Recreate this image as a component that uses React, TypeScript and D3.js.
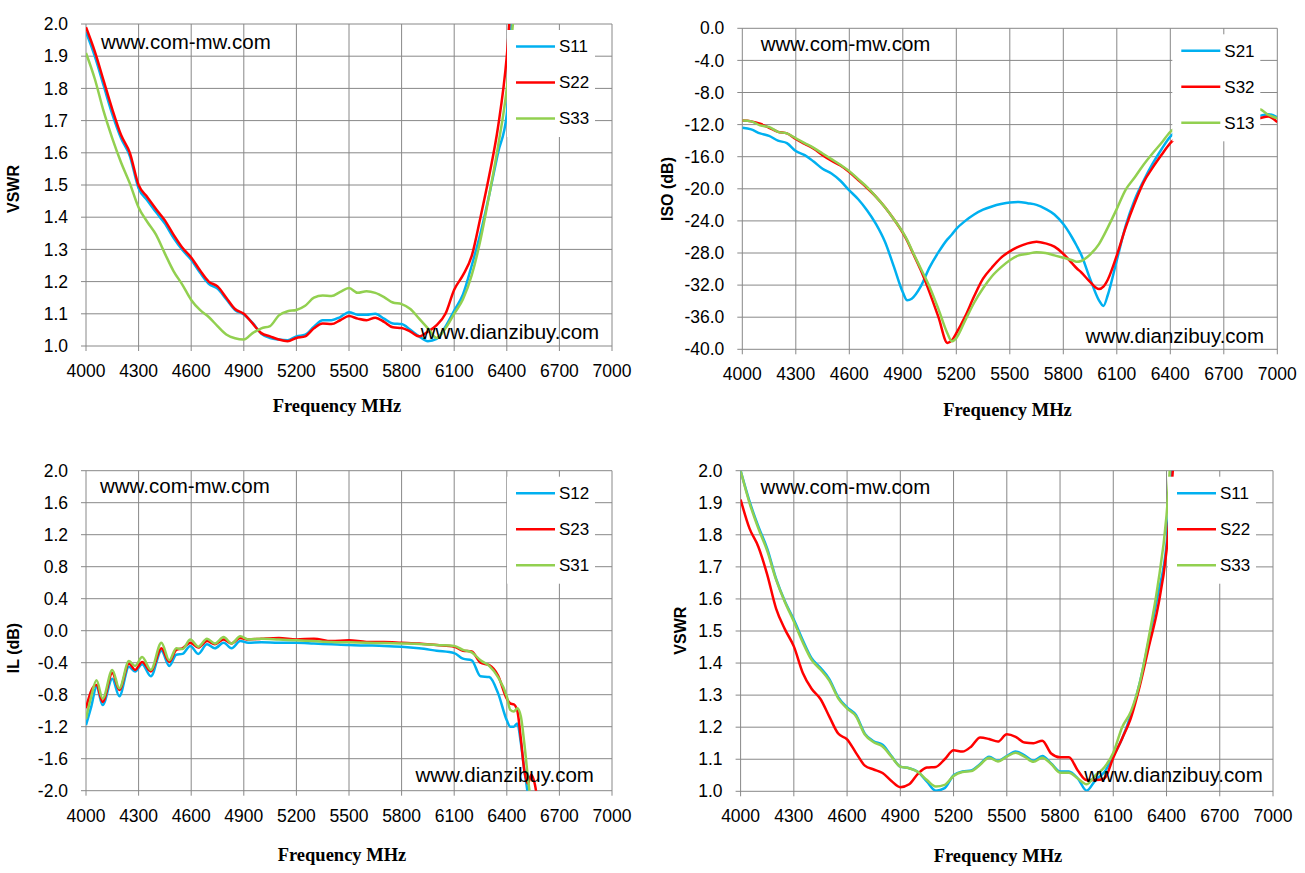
import * as d3 from "d3";

// ---- axis ticks ----
const freqTicks = [4000, 4300, 4600, 4900, 5200, 5500, 5800, 6100, 6400, 6700, 7000];
const vswrTicks = [1.0, 1.1, 1.2, 1.3, 1.4, 1.5, 1.6, 1.7, 1.8, 1.9, 2.0];
const isoTicks = [0, -4, -8, -12, -16, -20, -24, -28, -32, -36, -40];
const ilTicks = [2.0, 1.6, 1.2, 0.8, 0.4, 0.0, -0.4, -0.8, -1.2, -1.6, -2.0];

// ---- frequency points (MHz) ----
const vswrFreq = [
  4000, 4050, 4100, 4150, 4200, 4250, 4300, 4350, 4400, 4450,
  4500, 4550, 4600, 4650, 4700, 4750, 4800, 4850, 4900, 4950,
  5000, 5050, 5100, 5150, 5200, 5250, 5300, 5350, 5400, 5450,
  5500, 5550, 5600, 5650, 5700, 5750, 5800, 5850, 5900, 5950,
  6000, 6050, 6100, 6150, 6200, 6250, 6300, 6350, 6400, 6450,
];
const isoFreq = [
  4000, 4050, 4100, 4150, 4200, 4250, 4300, 4350, 4400, 4450,
  4500, 4550, 4600, 4650, 4700, 4750, 4800, 4850, 4900, 4925,
  4950, 5000, 5050, 5100, 5150, 5175, 5200, 5250, 5300, 5350,
  5400, 5450, 5500, 5550, 5600, 5650, 5700, 5750, 5800, 5850,
  5875, 5900, 5950, 6000, 6025, 6050, 6100, 6150, 6200, 6250,
  6300, 6350, 6400, 6450, 6900, 6950, 7000,
];
const ilFreq = [
  4000, 4030, 4060, 4095, 4150, 4190, 4245, 4280, 4320, 4370,
  4430, 4475, 4515, 4550, 4595, 4640, 4690, 4735, 4785, 4830,
  4880, 4925, 5000, 5100, 5200, 5300, 5400, 5500, 5600, 5700,
  5800, 5900, 6000, 6100, 6150, 6200, 6250, 6300, 6350, 6400,
  6420, 6440, 6460, 6480, 6500, 6520, 6540, 6560, 6580,
];

// ---- top-left: VSWR ----
const vswrA_S11 = [
  1.975, 1.9, 1.81, 1.72, 1.645, 1.59, 1.49, 1.452, 1.415, 1.38,
  1.335, 1.298, 1.268, 1.228, 1.193, 1.178, 1.145, 1.112, 1.098, 1.072,
  1.038, 1.025, 1.02, 1.018, 1.03, 1.035, 1.06, 1.08, 1.08, 1.09,
  1.105, 1.097, 1.097, 1.1, 1.085, 1.07, 1.068, 1.05, 1.03, 1.015,
  1.022, 1.06, 1.11, 1.16, 1.25, 1.35, 1.47, 1.6, 1.72, 2.35,
];
const vswrA_S22 = [
  1.99, 1.915, 1.825, 1.735, 1.655, 1.6, 1.5, 1.462, 1.425, 1.39,
  1.345, 1.305, 1.275, 1.235, 1.2, 1.185, 1.15, 1.115, 1.1, 1.07,
  1.04, 1.03, 1.02, 1.015, 1.025, 1.03, 1.055, 1.07, 1.068, 1.08,
  1.093, 1.085, 1.08, 1.088, 1.075, 1.058, 1.056, 1.045, 1.03, 1.045,
  1.065, 1.1, 1.175, 1.22, 1.28, 1.4, 1.53, 1.68, 1.9, 2.3,
];
const vswrA_S33 = [
  1.91, 1.83, 1.73, 1.645, 1.57, 1.505, 1.43, 1.385, 1.345, 1.287,
  1.232, 1.19, 1.143, 1.112, 1.09, 1.062, 1.036, 1.024, 1.02, 1.04,
  1.055, 1.062, 1.095, 1.108, 1.112, 1.125, 1.15, 1.157, 1.155, 1.168,
  1.18, 1.165, 1.17, 1.165, 1.152, 1.135, 1.13, 1.115, 1.085, 1.055,
  1.025, 1.055, 1.1, 1.145, 1.22, 1.33, 1.47, 1.62, 1.8, 2.1,
];

// ---- top-right: isolation ----
const iso_S21 = [
  -12.4, -12.6, -13.1, -13.4, -14.0, -14.3, -15.3, -15.8, -16.6, -17.5,
  -18.1, -19.0, -20.2, -21.3, -22.7, -24.4, -26.6, -29.7, -32.9, -33.9,
  -33.7, -32.2, -29.8, -27.9, -26.3, -25.7, -25.0, -24.0, -23.2, -22.6,
  -22.2, -21.9, -21.7, -21.65, -21.8, -22.0, -22.5, -23.2, -24.4, -26.1,
  -27.1, -28.2, -31.2, -33.9, -34.6, -33.2, -28.9, -24.6, -21.4, -19.0,
  -16.9, -15.1, -13.5, -12.7, -10.9, -10.7, -11.1,
];
const iso_S32 = [
  -11.5, -11.6, -11.9, -12.4, -12.9, -13.1, -13.8, -14.4, -15.0, -15.8,
  -16.5, -17.1, -17.9, -18.9, -19.9, -21.0, -22.3, -23.8, -25.5, -26.5,
  -27.7, -30.1, -32.9, -36.0, -39.2, -38.9, -38.0, -35.9, -33.4, -31.2,
  -29.8, -28.6, -27.8, -27.2, -26.8, -26.6, -26.8, -27.2, -28.1, -29.3,
  -29.9, -30.4, -31.6, -32.5, -32.2, -31.3, -28.3, -24.8, -21.8, -19.2,
  -17.4, -15.8, -14.3, -13.4, -11.2, -11.0, -11.7,
];
const iso_S13 = [
  -11.5, -11.6, -12.1, -12.3, -12.9, -13.1, -13.7, -14.3, -14.9, -15.6,
  -16.3, -17.0, -17.8, -18.8, -19.8, -21.0, -22.3, -23.8, -25.4, -26.4,
  -27.6, -29.9, -32.2, -35.0, -38.0, -39.0, -38.6, -36.4, -34.2, -32.4,
  -30.9, -29.8, -28.9, -28.3, -28.1, -27.9, -28.0, -28.3, -28.6, -28.9,
  -29.1, -29.0, -28.2, -26.9, -25.9, -24.8, -22.5, -20.1, -18.6, -17.0,
  -15.6, -14.3, -12.9, -12.3, -10.1, -10.8, -11.2,
];

// ---- bottom-left: insertion loss ----
const il_S12 = [
  -1.18, -0.95, -0.7, -0.93, -0.6, -0.82, -0.45, -0.51, -0.42, -0.57,
  -0.25, -0.44, -0.3, -0.29, -0.19, -0.29, -0.17, -0.22, -0.15, -0.22,
  -0.13, -0.15, -0.145, -0.15, -0.15, -0.16, -0.17, -0.18, -0.185, -0.19,
  -0.2, -0.22, -0.25, -0.28, -0.35, -0.37, -0.57, -0.58, -0.78, -1.12,
  -1.2, -1.2, -1.16, -1.4, -1.74, -2.05, -2.5, -2.9, -3.3,
];
const il_S23 = [
  -0.97, -0.75, -0.68, -0.89, -0.53, -0.74, -0.41, -0.49, -0.39, -0.51,
  -0.22, -0.39, -0.24, -0.22, -0.15, -0.21, -0.13, -0.17, -0.11, -0.16,
  -0.09, -0.11, -0.1, -0.09, -0.11, -0.1, -0.13, -0.12, -0.14, -0.14,
  -0.15, -0.16, -0.18, -0.2, -0.25, -0.26, -0.4, -0.43, -0.56, -0.85,
  -0.91, -0.92, -1.0, -1.35, -1.75, -1.91, -1.8, -1.92, -2.2,
];
const il_S31 = [
  -1.1, -0.82, -0.62, -0.85, -0.49, -0.72, -0.38, -0.44, -0.33, -0.49,
  -0.15, -0.37, -0.22, -0.23, -0.11, -0.2, -0.1, -0.16, -0.08, -0.16,
  -0.07, -0.11, -0.1, -0.11, -0.12, -0.13, -0.14, -0.145, -0.15, -0.155,
  -0.16, -0.165, -0.18, -0.19, -0.24, -0.27, -0.37, -0.44, -0.58, -0.82,
  -0.99, -1.01, -0.97, -1.07, -1.41, -1.83, -2.2, -2.6, -3.0,
];

// ---- bottom-right: VSWR ----
const vswrB_S11 = [
  2.0, 1.905, 1.826, 1.757, 1.663, 1.592, 1.536, 1.472, 1.415, 1.385,
  1.35, 1.294, 1.262, 1.238, 1.18, 1.156, 1.145, 1.11, 1.077, 1.072,
  1.06, 1.03, 1.002, 1.01, 1.05, 1.062, 1.065, 1.085, 1.108, 1.095,
  1.11, 1.124, 1.112, 1.095, 1.11, 1.087, 1.062, 1.062, 1.04, 1.002,
  1.035, 1.06, 1.11, 1.165, 1.24, 1.34, 1.47, 1.61, 1.77, 2.2,
];
const vswrB_S22 = [
  1.91, 1.82, 1.763, 1.676, 1.57, 1.505, 1.452, 1.37, 1.32, 1.288,
  1.233, 1.18, 1.162, 1.12, 1.08, 1.068, 1.057, 1.032, 1.013, 1.022,
  1.055, 1.074, 1.076, 1.1, 1.128, 1.124, 1.14, 1.168, 1.163, 1.155,
  1.178, 1.17, 1.152, 1.15, 1.158, 1.118, 1.106, 1.106, 1.065, 1.035,
  1.035, 1.04, 1.105, 1.165, 1.23, 1.33, 1.45, 1.57, 1.75, 2.12,
];
const vswrB_S33 = [
  2.0, 1.9, 1.82, 1.75, 1.66, 1.59, 1.53, 1.465, 1.41, 1.38,
  1.345, 1.29, 1.258, 1.234, 1.177, 1.153, 1.14, 1.108, 1.077, 1.072,
  1.06, 1.035, 1.015, 1.02, 1.048, 1.06, 1.063, 1.083, 1.105, 1.093,
  1.108, 1.12, 1.108, 1.092, 1.105, 1.085, 1.058, 1.058, 1.04, 1.022,
  1.05, 1.075, 1.12, 1.2, 1.25, 1.34, 1.48, 1.64, 1.86, 2.3,
];

const CYAN = "#00B0F0";
const RED = "#FF0000";
const GREEN = "#92D050";
const GRID = "#888888";
const SANS = "'Liberation Sans', Arial, sans-serif";
const SERIF = "'Liberation Serif', 'Times New Roman', serif";

type Series = { name: string; color: string; values: number[] };

type PanelProps = {
  id: string;
  left: number;
  right: number;
  top: number;
  bottom: number;
  yDomain: [number, number];
  yTicks: number[];
  freq: number[];
  series: Series[];
  yTitle: string;
  yTitleX: number;
  yTitleY: number;
  xTitleX: number;
  xTitleY: number;
  mark1: [number, number];
  mark2: [number, number];
};

function Panel(p: PanelProps) {
  const x = d3.scaleLinear().domain([4000, 7000]).range([p.left, p.right]);
  const y = d3.scaleLinear().domain(p.yDomain).range([p.bottom, p.top]);
  const line = d3
    .line<number>()
    .x((_, i) => x(p.freq[i]))
    .y((d) => y(d))
    .curve(d3.curveMonotoneX);
  const clipId = `clip-${p.id}`;
  const boxL = p.right - 105;
  const boxR = p.right - 17;

  return (
    <g>
      <defs>
        <clipPath id={clipId}>
          <rect x={p.left} y={p.top} width={p.right - p.left} height={p.bottom - p.top} />
        </clipPath>
      </defs>

      {freqTicks.map((t) => (
        <line key={"vx" + t} x1={x(t)} x2={x(t)} y1={p.top} y2={p.bottom + 5} stroke={GRID} strokeWidth={1} />
      ))}
      {p.yTicks.map((t) => (
        <line key={"hy" + t} x1={p.left - 5} x2={p.right} y1={y(t)} y2={y(t)} stroke={GRID} strokeWidth={1} />
      ))}

      {freqTicks.map((t) => (
        <text key={"lx" + t} x={x(t)} y={p.bottom + 31} textAnchor="middle" fontFamily={SANS} fontSize={17.5} fill="#000">
          {t}
        </text>
      ))}
      {p.yTicks.map((t) => (
        <text
          key={"ly" + t}
          x={p.left - 18}
          y={y(t)}
          dy="0.35em"
          textAnchor="end"
          fontFamily={SANS}
          fontSize={17.5}
          fill="#000"
        >
          {t.toFixed(1)}
        </text>
      ))}

      <g clipPath={`url(#${clipId})`}>
        {p.series.map((s) => (
          <path
            key={s.name}
            d={line(s.values) ?? ""}
            fill="none"
            stroke={s.color}
            strokeWidth={2.5}
            strokeLinejoin="round"
          />
        ))}
      </g>

      <rect x={boxL} y={p.top + 6} width={boxR - boxL} height={107} fill="#fff" />
      {p.series.map((s, i) => {
        const ly = p.top + 22.5 + i * 36;
        return (
          <g key={"lg" + s.name}>
            <line x1={p.right - 96} x2={p.right - 57} y1={ly} y2={ly} stroke={s.color} strokeWidth={2.5} />
            <text x={p.right - 53} y={ly} dy="0.35em" fontFamily={SANS} fontSize={17} fill="#000">
              {s.name}
            </text>
          </g>
        );
      })}

      <text x={p.mark1[0]} y={p.mark1[1]} dy="0.35em" fontFamily={SANS} fontSize={20.5} fill="#000">
        www.com-mw.com
      </text>
      <text x={p.mark2[0]} y={p.mark2[1]} dy="0.35em" fontFamily={SANS} fontSize={20.5} fill="#000">
        www.dianzibuy.com
      </text>

      <text
        transform={`translate(${p.yTitleX},${p.yTitleY}) rotate(-90)`}
        textAnchor="middle"
        dy="0.35em"
        fontFamily={SANS}
        fontWeight="bold"
        fontSize={16}
        fill="#000"
      >
        {p.yTitle}
      </text>
      <text
        x={p.xTitleX}
        y={p.xTitleY}
        dy="0.35em"
        textAnchor="middle"
        fontFamily={SERIF}
        fontWeight="bold"
        fontSize={18.5}
        fill="#000"
      >
        Frequency MHz
      </text>
    </g>
  );
}

export default function App() {
  return (
    <svg
      width={1305}
      height={873}
      style={{ position: "absolute", left: 0, top: 0, display: "block" }}
    >
      <rect x={0} y={0} width={1305} height={873} fill="#fff" />
      <Panel
        id="a"
        left={86}
        right={612}
        top={24}
        bottom={346}
        yDomain={[1.0, 2.0]}
        yTicks={vswrTicks}
        freq={vswrFreq}
        series={[
          { name: "S11", color: CYAN, values: vswrA_S11 },
          { name: "S22", color: RED, values: vswrA_S22 },
          { name: "S33", color: GREEN, values: vswrA_S33 },
        ]}
        yTitle="VSWR"
        yTitleX={13}
        yTitleY={189}
        xTitleX={337}
        xTitleY={406}
        mark1={[101, 41.7]}
        mark2={[420.7, 332.3]}
      />
      <Panel
        id="b"
        left={742.3}
        right={1277.3}
        top={28.3}
        bottom={349.3}
        yDomain={[-40, 0]}
        yTicks={isoTicks}
        freq={isoFreq}
        series={[
          { name: "S21", color: CYAN, values: iso_S21 },
          { name: "S32", color: RED, values: iso_S32 },
          { name: "S13", color: GREEN, values: iso_S13 },
        ]}
        yTitle="ISO (dB)"
        yTitleX={667}
        yTitleY={189}
        xTitleX={1007.5}
        xTitleY={409.3}
        mark1={[760.7, 44]}
        mark2={[1085.6, 336]}
      />
      <Panel
        id="c"
        left={86}
        right={612}
        top={470.7}
        bottom={790.7}
        yDomain={[-2.0, 2.0]}
        yTicks={ilTicks}
        freq={ilFreq}
        series={[
          { name: "S12", color: CYAN, values: il_S12 },
          { name: "S23", color: RED, values: il_S23 },
          { name: "S31", color: GREEN, values: il_S31 },
        ]}
        yTitle="IL (dB)"
        yTitleX={13}
        yTitleY={648}
        xTitleX={342}
        xTitleY={855}
        mark1={[100, 486]}
        mark2={[415.4, 775]}
      />
      <Panel
        id="d"
        left={740.6}
        right={1273}
        top={470.7}
        bottom={791.3}
        yDomain={[1.0, 2.0]}
        yTicks={vswrTicks}
        freq={vswrFreq}
        series={[
          { name: "S11", color: CYAN, values: vswrB_S11 },
          { name: "S22", color: RED, values: vswrB_S22 },
          { name: "S33", color: GREEN, values: vswrB_S33 },
        ]}
        yTitle="VSWR"
        yTitleX={680}
        yTitleY={630.7}
        xTitleX={998}
        xTitleY={856}
        mark1={[760.6, 487.3]}
        mark2={[1084.3, 775]}
      />
    </svg>
  );
}
